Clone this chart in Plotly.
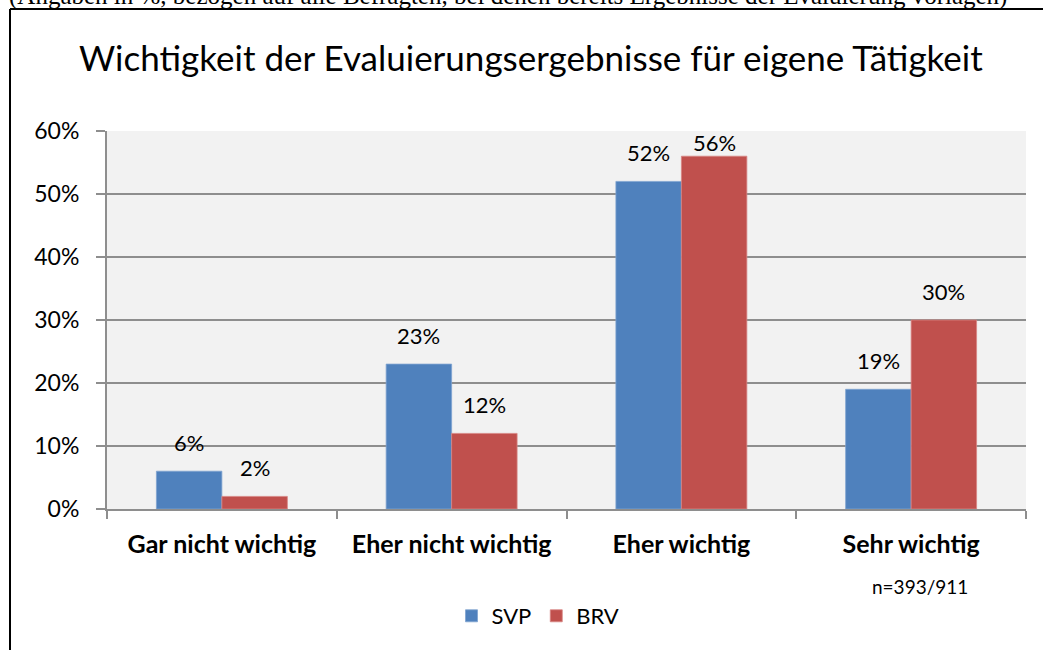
import plotly.graph_objects as go

categories = ["Gar nicht wichtig", "Eher nicht wichtig", "Eher wichtig", "Sehr wichtig"]
svp = [6, 23, 52, 19]
brv = [2, 12, 56, 30]
series_names = ["SVP", "BRV"]
y_ticks = [0, 10, 20, 30, 40, 50, 60]
y_tick_labels = [f"{v}%" for v in y_ticks]
title_text = "Wichtigkeit der Evaluierungsergebnisse für eigene Tätigkeit"
header_text = "(Angaben in %, bezogen auf alle Befragten, bei denen bereits Ergebnisse der Evaluierung vorlagen)"
note_text = "n=393/911"

BLUE = "#4f81bd"
RED = "#c0504d"
FONT = "Lato"

fig = go.Figure()
fig.add_trace(go.Bar(x=categories, y=svp, name=series_names[0],
                     marker=dict(color=BLUE, line=dict(color="#7fa3d1", width=0.8)), offsetgroup=0))
fig.add_trace(go.Bar(x=categories, y=brv, name=series_names[1],
                     marker=dict(color=RED, line=dict(color="#d88583", width=0.8)), offsetgroup=1))

# data labels
bargap = 0.43
half = (1 - bargap) / 4
for vals, off in ((svp, -half), (brv, half)):
    for i, v in enumerate(vals):
        shift = -2 if v >= 55 else 13
        fig.add_annotation(x=i + off, y=v, xref="x", yref="y", text=f"{v}%", showarrow=False,
                           yanchor="bottom", yshift=shift, font=dict(family=FONT, size=22, color="#000"))

fig.add_annotation(x=0.5, y=1, xref="paper", yref="paper", text=title_text, showarrow=False,
                   yanchor="middle", yshift=74, xshift=-36,
                   font=dict(family=FONT, size=35, color="#000"))
fig.add_annotation(x=(920 - 107) / 919, y=(509 - 586) / 378, xref="paper", yref="paper", text=note_text,
                   showarrow=False, xanchor="center", yanchor="middle",
                   font=dict(family=FONT, size=19, color="#000"))
fig.add_annotation(x=-95 / 919, y=1, xref="paper", yref="paper", text=header_text, showarrow=False,
                   xanchor="left", yanchor="middle", yshift=135, xshift=-5,
                   font=dict(family="Liberation Serif", size=25, color="#000"))

# chart border
fig.add_shape(type="line", xref="paper", yref="paper", x0=-97 / 919, x1=1.1, y0=1 + 122 / 378, y1=1 + 122 / 378,
              line=dict(color="#000", width=2))
fig.add_shape(type="line", xref="paper", yref="paper", x0=-97 / 919, x1=-97 / 919, y0=1 + 122 / 378, y1=-0.5,
              line=dict(color="#000", width=2))

fig.update_layout(
    width=1043, height=650,
    margin=dict(l=107, r=17, t=131, b=141),
    paper_bgcolor="white", plot_bgcolor="#f2f2f2",
    barmode="group", bargap=bargap, bargroupgap=0,
    showlegend=True,
    legend=dict(orientation="h", x=(538 - 107) / 919, xanchor="center", y=(509 - 616) / 378, yanchor="middle",
                font=dict(family=FONT, size=22, color="#000"), itemwidth=30, tracegroupgap=0,
                bgcolor="rgba(0,0,0,0)"),
    font=dict(family=FONT, color="#000"),
)
fig.update_xaxes(showline=True, linecolor="#8e8e8e", linewidth=2, ticks="outside", tickson="boundaries",
                 ticklen=8, tickcolor="#8e8e8e", tickwidth=2, showgrid=False,
                 tickfont=dict(family=FONT, size=25, color="#000", weight="bold"), ticklabelstandoff=12)
fig.update_yaxes(range=[0, 60], tickvals=y_ticks, ticktext=y_tick_labels, showline=True, linecolor="#8e8e8e",
                 linewidth=2, ticks="outside", ticklen=9, tickcolor="#8e8e8e", tickwidth=2,
                 showgrid=True, gridcolor="#8e8e8e", gridwidth=2, zeroline=False,
                 tickfont=dict(family=FONT, size=23, color="#000"), ticklabelstandoff=12)

fig.write_html("out.html", config={"displayModeBar": False},
               post_script="document.body.style.margin='0';")
